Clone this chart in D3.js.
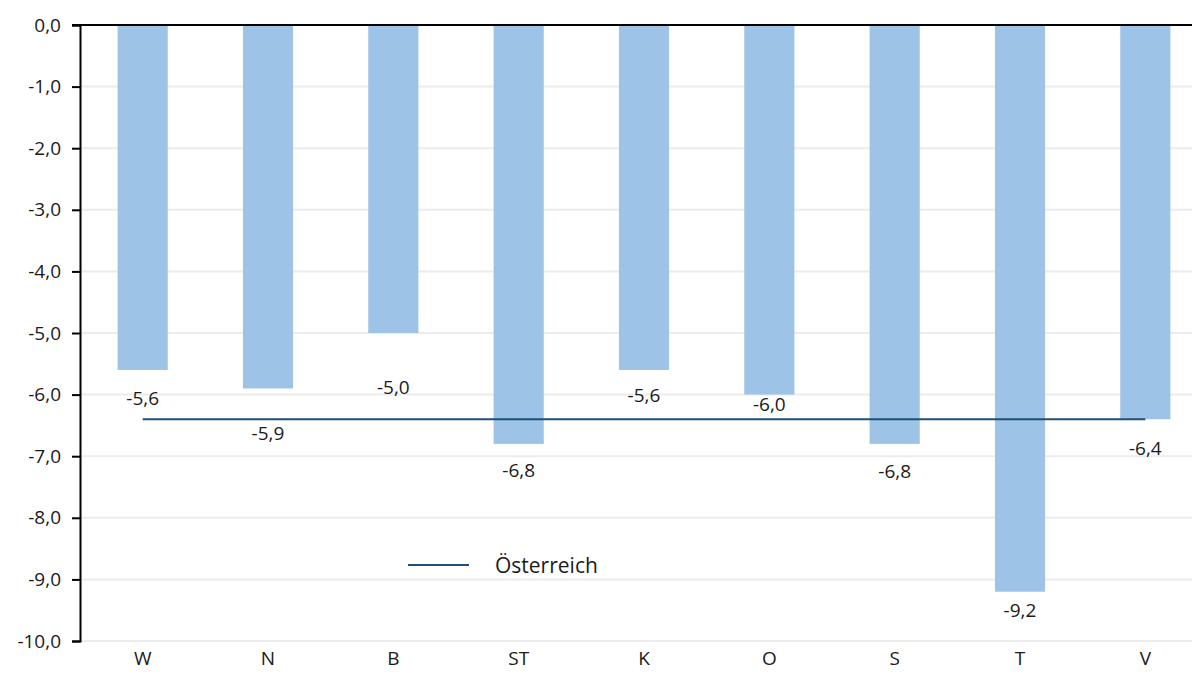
<!DOCTYPE html>
<html>
<head>
<meta charset="utf-8">
<script src="https://cdn.jsdelivr.net/npm/d3@7"></script>
<style>
  html, body { margin: 0; padding: 0; background: #fff; }
  svg { display: block; font-family: "Open Sans", "Lato", sans-serif; }
</style>
</head>
<body>
<svg id="chart" width="1192" height="675"></svg>
<script>
// Regions (Bundesländer) and their values
const categories = ["W", "N", "B", "ST", "K", "O", "S", "T", "V"];
const values = [-5.6, -5.9, -5.0, -6.8, -5.6, -6.0, -6.8, -9.2, -6.4];
// National reference value (Österreich)
const austria = -6.4;
const yTicks = [0, -1, -2, -3, -4, -5, -6, -7, -8, -9, -10];

// Vertical offset (px) of each value label below its bar end
const labelDy = [28, 45, 54, 26, 25, 9, 27, 18, 29];

const width = 1192, height = 675;
const margin = { left: 80, top: 25, right: -16, bottom: 34 };
const font = "'Open Sans', Lato, sans-serif";
const ink = "#1a1a1a";

const svg = d3.select("#chart");

const x = d3.scaleBand()
  .domain(categories)
  .range([margin.left, width - margin.right])
  .paddingInner(0.6)
  .paddingOuter(0.3);

const y = d3.scaleLinear()
  .domain([0, -10])
  .range([margin.top, height - margin.bottom]);

const fmt = v => d3.format(".1f")(v).replace(".", ",").replace("−", "-");

// Horizontal gridlines
svg.append("g")
  .selectAll("line")
  .data(yTicks.filter(t => t !== 0))
  .join("line")
  .attr("x1", margin.left)
  .attr("x2", width)
  .attr("y1", d => y(d))
  .attr("y2", d => y(d))
  .attr("stroke", "#ececec")
  .attr("stroke-width", 2);

// Bars hanging down from zero
svg.append("g")
  .selectAll("rect")
  .data(values)
  .join("rect")
  .attr("x", (d, i) => x(categories[i]))
  .attr("width", x.bandwidth())
  .attr("y", y(0))
  .attr("height", d => y(d) - y(0))
  .attr("fill", "#9dc3e6");

// Österreich reference line across category centres
svg.append("line")
  .attr("x1", x(categories[0]) + x.bandwidth() / 2)
  .attr("x2", x(categories[categories.length - 1]) + x.bandwidth() / 2)
  .attr("y1", y(austria))
  .attr("y2", y(austria))
  .attr("stroke", "#1f4e79")
  .attr("stroke-width", 2);

// Value labels
svg.append("g")
  .selectAll("text")
  .data(values)
  .join("text")
  .attr("x", (d, i) => x(categories[i]) + x.bandwidth() / 2)
  .attr("y", (d, i) => y(d) + labelDy[i])
  .attr("text-anchor", "middle")
  .attr("dominant-baseline", "central")
  .attr("font-size", 19)
  .attr("font-family", font)
  .attr("fill", ink)
  .text(d => fmt(d));

// Y axis
const yAxis = svg.append("g")
  .attr("transform", `translate(${margin.left},0)`)
  .call(d3.axisLeft(y).tickValues(yTicks).tickSize(8).tickPadding(11).tickFormat(fmt));
yAxis.select(".domain").attr("stroke", "#000").attr("stroke-width", 2);
yAxis.selectAll(".tick line").attr("stroke", "#000").attr("stroke-width", 2);
yAxis.selectAll(".tick text")
  .attr("font-size", 19)
  .attr("font-family", font)
  .attr("fill", ink);

// Zero line along the top
svg.append("line")
  .attr("x1", margin.left - 8)
  .attr("x2", width)
  .attr("y1", y(0))
  .attr("y2", y(0))
  .attr("stroke", "#000")
  .attr("stroke-width", 2);

// Category labels along the bottom
const xAxis = svg.append("g")
  .attr("transform", `translate(0,${y(-10)})`)
  .call(d3.axisBottom(x).tickSize(0).tickPadding(11));
xAxis.select(".domain").remove();
xAxis.selectAll(".tick text")
  .attr("font-size", 19)
  .attr("font-family", font)
  .attr("fill", ink);

// Legend
const legend = svg.append("g").attr("transform", "translate(408,565)");
legend.append("line")
  .attr("x1", 0).attr("x2", 61)
  .attr("y1", 0).attr("y2", 0)
  .attr("stroke", "#1f4e79")
  .attr("stroke-width", 2);
legend.append("text")
  .attr("x", 87)
  .attr("y", 0)
  .attr("dominant-baseline", "central")
  .attr("font-size", 21)
  .attr("font-family", font)
  .attr("fill", ink)
  .text("Österreich");
</script>
</body>
</html>
